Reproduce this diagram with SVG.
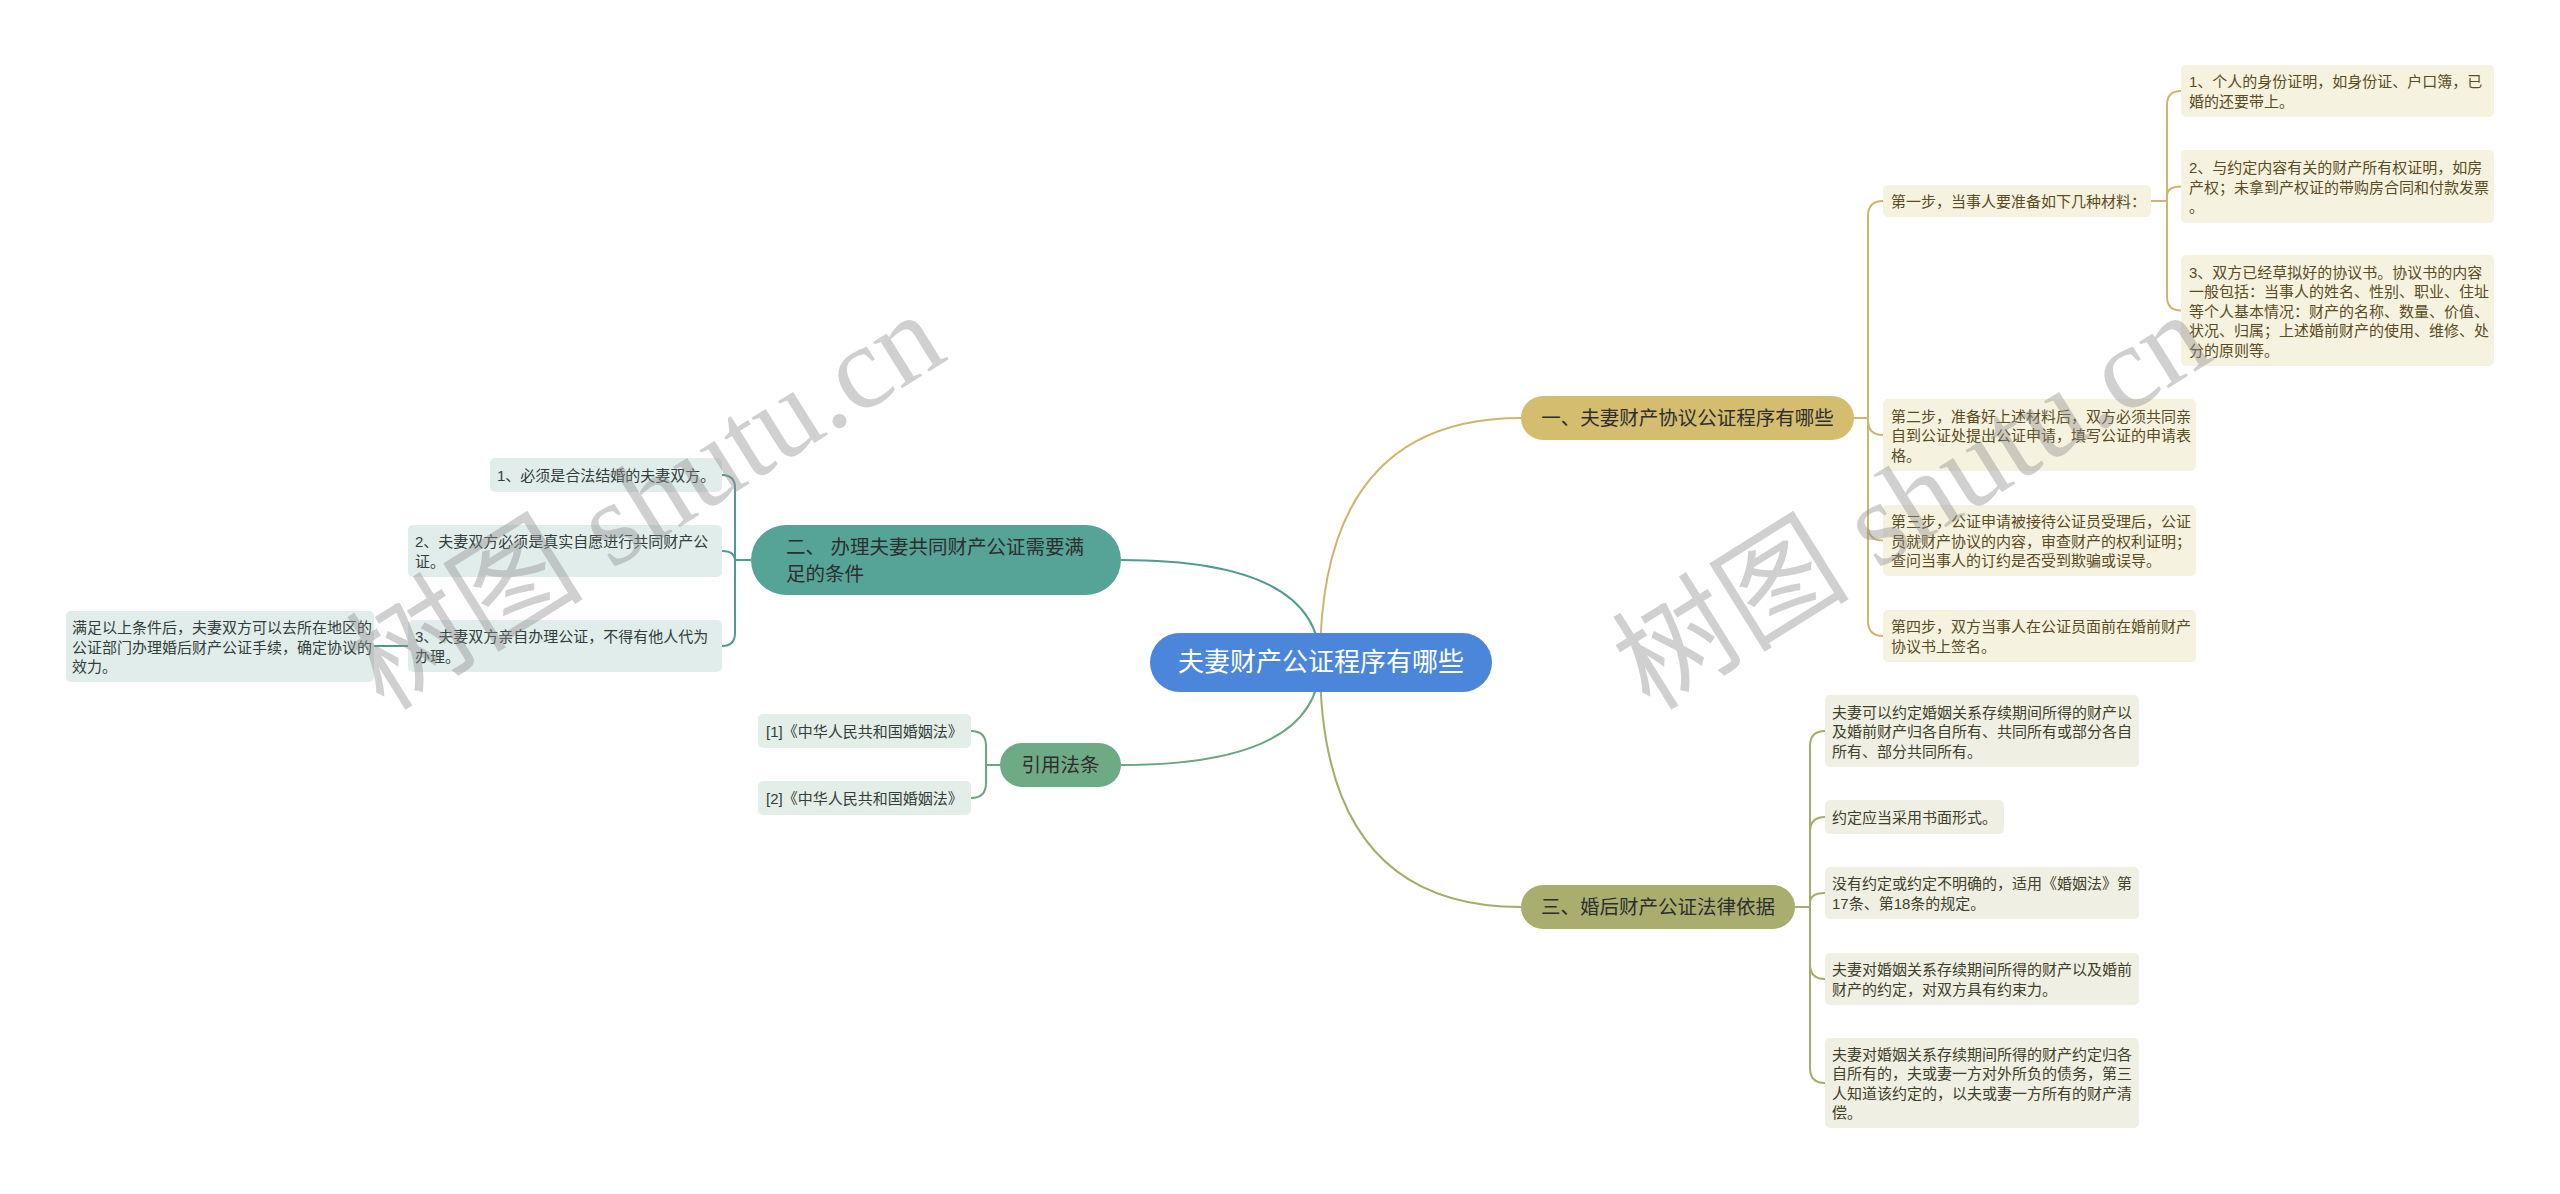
<svg xmlns="http://www.w3.org/2000/svg" width="2560" height="1194" viewBox="0 0 2560 1194">
<style>
text{font-family:"Liberation Sans","Noto Sans CJK SC",sans-serif;}
.leaf{font-size:15px;}
.br{font-size:19.5px;fill:#2e2e2e;}
.root{font-size:26px;fill:#ffffff;}
.gl rect{fill:#f6f2e0;}
.gl text{fill:#5a4c22;}
.ol rect{fill:#eff0e3;}
.ol text{fill:#3f402a;}
.tl rect{fill:#e0edea;}
.tl text{fill:#333d3a;}
.cl rect{fill:#e3eee8;}
.cl text{fill:#333d3a;}
.conn path{fill:none;stroke-width:2;}
.cg{stroke:#cdb66d;}
.ct{stroke:#4f9b90;}
.cn{stroke:#6aa67f;}
.co{stroke:#a6ac69;}
.wm{font-family:"Liberation Serif","Noto Sans CJK SC",serif;font-size:119px;fill:#8c8c8c;opacity:0.4;}
</style>
<rect width="2560" height="1194" fill="#ffffff"/>
<g class="conn" id="connectors">
<path class="cg" d="M1320,662 Q1320,418 1521,418"/>
<path class="ct" d="M1320,662 Q1320,560 1121,560"/>
<path class="cn" d="M1320,662 Q1320,765 1121,765"/>
<path class="co" d="M1320,662 Q1320,907 1521,907"/>
<path class="cg" d="M1854,418 H1868 V216 Q1868,201 1883,201"/>
<path class="cg" d="M1854,418 H1868 V420 Q1868,435 1883,435"/>
<path class="cg" d="M1854,418 H1868 V525.5 Q1868,540.5 1883,540.5"/>
<path class="cg" d="M1854,418 H1868 V621 Q1868,636 1883,636"/>
<path class="cg" d="M2151,201 H2167 V105 Q2167,91 2181,91"/>
<path class="cg" d="M2151,201 H2167 V196 Q2167,186.5 2181,186.5"/>
<path class="cg" d="M2151,201 H2167 V296.5 Q2167,310.5 2181,310.5"/>
<path class="co" d="M1795,907 H1810 V746 Q1810,731 1825,731"/>
<path class="co" d="M1795,907 H1810 V832 Q1810,817 1825,817"/>
<path class="co" d="M1795,907 H1810 V903 Q1810,893 1825,893"/>
<path class="co" d="M1795,907 H1810 V964 Q1810,979 1825,979"/>
<path class="co" d="M1795,907 H1810 V1068 Q1810,1083 1825,1083"/>
<path class="ct" d="M751,560 H735 V488 Q735,475 722,475"/>
<path class="ct" d="M751,560 H735 V561 Q735,551 722,551"/>
<path class="ct" d="M751,560 H735 V633 Q735,646 722,646"/>
<path class="ct" d="M408,646 H374"/>
<path class="cn" d="M1000,765 H986 V746 Q986,731 971,731"/>
<path class="cn" d="M1000,765 H986 V783 Q986,798 971,798"/>
</g>

<g id="root">
<rect x="1150" y="633" width="342" height="59" rx="29.5" fill="#4b86da"/>
<text class="root" x="1321" y="671" text-anchor="middle">夫妻财产公证程序有哪些</text>
</g>

<g id="n1">
<rect x="1521" y="396" width="333" height="44" rx="22" fill="#d4bd6e"/>
<text class="br" x="1687.5" y="425" text-anchor="middle">一、夫妻财产协议公证程序有哪些</text>
</g>
<g id="n2">
<rect x="751" y="525" width="370" height="70" rx="35" fill="#56a397"/>
<text class="br"><tspan x="786" y="553.5">二、 办理夫妻共同财产公证需要满</tspan><tspan x="786" y="580.5">足的条件</tspan></text>
</g>
<g id="n3">
<rect x="1000" y="743" width="121" height="44" rx="22" fill="#6eaa84"/>
<text class="br" x="1060.5" y="772" text-anchor="middle">引用法条</text>
</g>
<g id="n4">
<rect x="1521" y="885" width="274" height="44" rx="22" fill="#a9ae6e"/>
<text class="br" x="1658" y="914" text-anchor="middle">三、婚后财产公证法律依据</text>
</g>

<g id="s1" class="gl">
<rect x="1883" y="185" width="268" height="32" rx="5"/>
<text class="leaf" x="1891" y="207">第一步，当事人要准备如下几种材料：</text>
</g>
<g id="s1a" class="gl">
<rect x="2181" y="65" width="313" height="52" rx="5"/>
<text class="leaf"><tspan x="2189" y="87.25">1、个人的身份证明，如身份证、户口簿，已</tspan><tspan x="2189" y="106.75">婚的还要带上。</tspan></text>
</g>
<g id="s1b" class="gl">
<rect x="2181" y="150" width="313" height="73" rx="5"/>
<text class="leaf"><tspan x="2189" y="173">2、与约定内容有关的财产所有权证明，如房</tspan><tspan x="2189" y="192.5">产权；未拿到产权证的带购房合同和付款发票</tspan><tspan x="2189" y="212">。</tspan></text>
</g>
<g id="s1c" class="gl">
<rect x="2181" y="255" width="313" height="111" rx="5"/>
<text class="leaf"><tspan x="2189" y="277.5">3、双方已经草拟好的协议书。协议书的内容</tspan><tspan x="2189" y="297">一般包括：当事人的姓名、性别、职业、住址</tspan><tspan x="2189" y="316.5">等个人基本情况：财产的名称、数量、价值、</tspan><tspan x="2189" y="336">状况、归属；上述婚前财产的使用、维修、处</tspan><tspan x="2189" y="355.5">分的原则等。</tspan></text>
</g>
<g id="s2" class="gl">
<rect x="1883" y="399" width="313" height="72" rx="5"/>
<text class="leaf"><tspan x="1891" y="421.5">第二步，准备好上述材料后，双方必须共同亲</tspan><tspan x="1891" y="441">自到公证处提出公证申请，填写公证的申请表</tspan><tspan x="1891" y="460.5">格。</tspan></text>
</g>
<g id="s3" class="gl">
<rect x="1883" y="505" width="313" height="71" rx="5"/>
<text class="leaf"><tspan x="1891" y="527">第三步，公证申请被接待公证员受理后，公证</tspan><tspan x="1891" y="546.5">员就财产协议的内容，审查财产的权利证明；</tspan><tspan x="1891" y="566">查问当事人的订约是否受到欺骗或误导。</tspan></text>
</g>
<g id="s4" class="gl">
<rect x="1883" y="610" width="313" height="52" rx="5"/>
<text class="leaf"><tspan x="1891" y="632">第四步，双方当事人在公证员面前在婚前财产</tspan><tspan x="1891" y="651.5">协议书上签名。</tspan></text>
</g>

<g id="o1" class="ol">
<rect x="1825" y="695" width="314" height="72" rx="5"/>
<text class="leaf"><tspan x="1832" y="717.5">夫妻可以约定婚姻关系存续期间所得的财产以</tspan><tspan x="1832" y="737">及婚前财产归各自所有、共同所有或部分各自</tspan><tspan x="1832" y="756.5">所有、部分共同所有。</tspan></text>
</g>
<g id="o2" class="ol">
<rect x="1825" y="800" width="179" height="34" rx="5"/>
<text class="leaf" x="1832" y="823">约定应当采用书面形式。</text>
</g>
<g id="o3" class="ol">
<rect x="1825" y="867" width="314" height="52" rx="5"/>
<text class="leaf"><tspan x="1832" y="889.25">没有约定或约定不明确的，适用《婚姻法》第</tspan><tspan x="1832" y="908.75">17条、第18条的规定。</tspan></text>
</g>
<g id="o4" class="ol">
<rect x="1825" y="953" width="314" height="52" rx="5"/>
<text class="leaf"><tspan x="1832" y="975.25">夫妻对婚姻关系存续期间所得的财产以及婚前</tspan><tspan x="1832" y="994.75">财产的约定，对双方具有约束力。</tspan></text>
</g>
<g id="o5" class="ol">
<rect x="1825" y="1038" width="314" height="90" rx="5"/>
<text class="leaf"><tspan x="1832" y="1059.75">夫妻对婚姻关系存续期间所得的财产约定归各</tspan><tspan x="1832" y="1079.25">自所有的，夫或妻一方对外所负的债务，第三</tspan><tspan x="1832" y="1098.75">人知道该约定的，以夫或妻一方所有的财产清</tspan><tspan x="1832" y="1118.25">偿。</tspan></text>
</g>

<g id="t1" class="tl">
<rect x="490" y="458" width="232" height="34" rx="5"/>
<text class="leaf" x="497" y="481">1、必须是合法结婚的夫妻双方。</text>
</g>
<g id="t2" class="tl">
<rect x="408" y="525" width="314" height="52" rx="5"/>
<text class="leaf"><tspan x="415" y="547.25">2、夫妻双方必须是真实自愿进行共同财产公</tspan><tspan x="415" y="566.75">证。</tspan></text>
</g>
<g id="t3" class="tl">
<rect x="408" y="620" width="314" height="52" rx="5"/>
<text class="leaf"><tspan x="415" y="642.25">3、夫妻双方亲自办理公证，不得有他人代为</tspan><tspan x="415" y="661.75">办理。</tspan></text>
</g>
<g id="t3a" class="tl">
<rect x="66" y="611" width="308" height="71" rx="5"/>
<text class="leaf"><tspan x="72" y="633">满足以上条件后，夫妻双方可以去所在地区的</tspan><tspan x="72" y="652.5">公证部门办理婚后财产公证手续，确定协议的</tspan><tspan x="72" y="672">效力。</tspan></text>
</g>

<g id="c1" class="cl">
<rect x="758" y="714" width="213" height="34" rx="5"/>
<text class="leaf" x="766" y="737">[1]《中华人民共和国婚姻法》</text>
</g>
<g id="c2" class="cl">
<rect x="758" y="781" width="213" height="34" rx="5"/>
<text class="leaf" x="766" y="804">[2]《中华人民共和国婚姻法》</text>
</g>

<g id="watermarks">
<text class="wm" transform="translate(384,712) rotate(-32)">树图 shutu.cn</text>
<text class="wm" transform="translate(1650,712) rotate(-32)">树图 shutu.cn</text>
</g>
</svg>
